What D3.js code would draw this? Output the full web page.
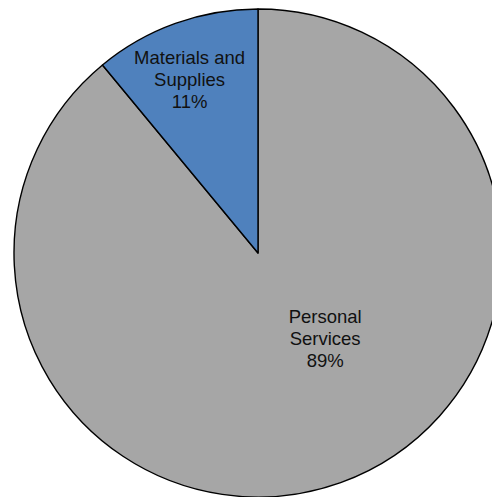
<!DOCTYPE html>
<html>
<head>
<meta charset="utf-8">
<script src="https://cdn.jsdelivr.net/npm/d3@7"></script>
<style>
  html, body { margin: 0; padding: 0; background: #fff; }
  svg { display: block; }
</style>
</head>
<body>
<svg id="chart" width="492" height="497"></svg>
<script>
// Budget shares by expense category
const categories = ["Personal Services", "Materials and Supplies"];
const values = [89, 11];
const colors = ["#A6A6A6", "#4F81BD"];
// Label text lines for each slice
const labelLines = [["Personal", "Services"], ["Materials and", "Supplies"]];
// Label placement: angle (degrees clockwise from 12 o'clock) and distance as a fraction of radius
const labelAngles = [142, -21.5];
const labelDist = [0.447, 0.765];

const cx = 258, cy = 253, radius = 244;

const svg = d3.select("#chart");
const g = svg.append("g").attr("transform", `translate(${cx},${cy})`);

const data = categories.map((c, i) => ({ name: c, value: values[i], color: colors[i], lines: labelLines[i], i }));
const total = d3.sum(values);

// Slices run clockwise from 12 o'clock, so the small slice ends back at the top
const arcs = d3.pie().value(d => d.value).sort(null)
  .startAngle(0).endAngle(2 * Math.PI)(data);

const arc = d3.arc().innerRadius(0).outerRadius(radius);

g.selectAll("path.slice")
  .data(arcs)
  .join("path")
  .attr("class", "slice")
  .attr("d", arc)
  .attr("fill", d => d.data.color)
  .attr("stroke", "#000")
  .attr("stroke-width", 1.4)
  .attr("stroke-linejoin", "round");

// Category labels with percentage
const labels = g.selectAll("text.lbl")
  .data(arcs)
  .join("text")
  .attr("class", "lbl")
  .attr("text-anchor", "middle")
  .attr("font-family", "'Liberation Sans', Arial, sans-serif")
  .attr("font-size", 18.5)
  .attr("fill", "#111")
  .attr("transform", d => {
    const a = labelAngles[d.data.i] * Math.PI / 180;
    const r = radius * labelDist[d.data.i];
    return `translate(${r * Math.sin(a)},${-r * Math.cos(a)})`;
  });

labels.each(function(d) {
  const lines = d.data.lines.concat([Math.round(d.value / total * 100) + "%"]);
  const n = lines.length;
  const lh = 22;
  d3.select(this).selectAll("tspan")
    .data(lines)
    .join("tspan")
    .attr("x", 0)
    .attr("y", (t, j) => (j - (n - 1) / 2) * lh)
    .attr("dy", "0.35em")
    .text(t => t);
});
</script>
</body>
</html>
